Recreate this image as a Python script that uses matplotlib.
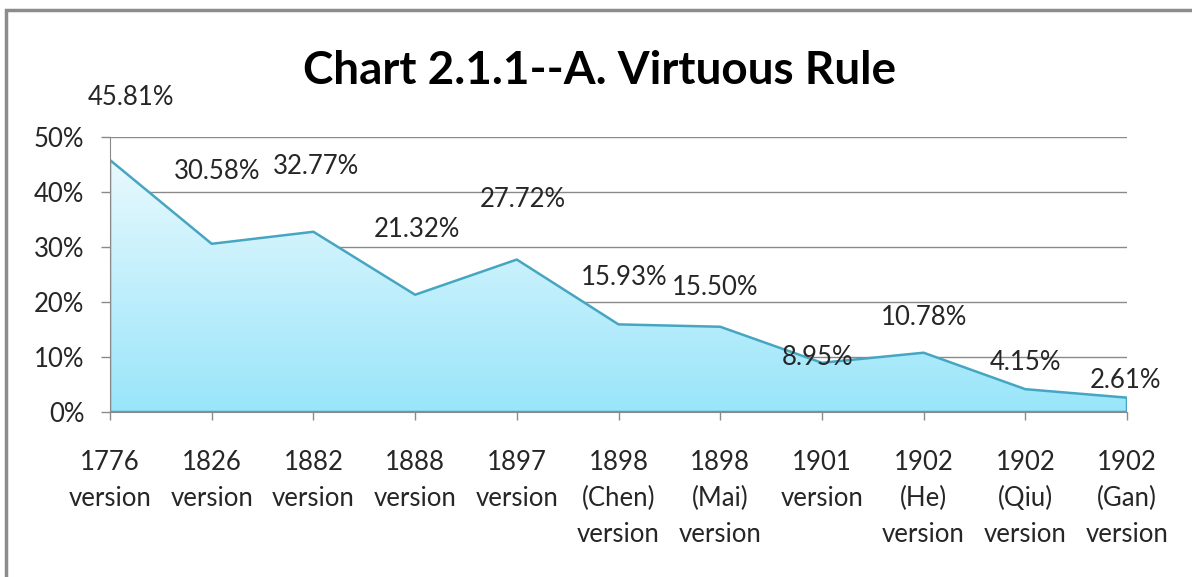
import numpy as np
import matplotlib.pyplot as plt
from matplotlib.patches import Rectangle, Polygon
from matplotlib.ticker import MultipleLocator, PercentFormatter

categories = ['1776\nversion', '1826\nversion', '1882\nversion', '1888\nversion',
              '1897\nversion', '1898\n(Chen)\nversion', '1898\n(Mai)\nversion',
              '1901\nversion', '1902\n(He)\nversion', '1902\n(Qiu)\nversion',
              '1902\n(Gan)\nversion']
values = [45.81, 30.58, 32.77, 21.32, 27.72, 15.93, 15.50, 8.95, 10.78, 4.15, 2.61]
labels = ['45.81%', '30.58%', '32.77%', '21.32%', '27.72%', '15.93%', '15.50%',
          '8.95%', '10.78%', '4.15%', '2.61%']

# label placement (offset in points from the data point), as drawn in the original
label_dx = [15, 4, 2, 1, 4, 4, -4, -3, 0, 0, -1]
label_dy = [45, 52, 47, 47, 43, 34, 28, 4, 25, 19, 12]

plt.rcParams['font.family'] = ['Lato', 'DejaVu Sans']
text_col = '#262626'
line_col = '#46a6c2'
grid_col = '#8a8a8a'

W, H = 1192, 577
fig = plt.figure(figsize=(W / 100, H / 100), dpi=100)
ax = fig.add_axes([110 / W, 1 - 412 / H, (1127 - 110) / W, (412 - 137) / H])

x = np.arange(len(values))
y = np.array(values) / 100

# gradient area clipped to the polygon
verts = [(0, 0)] + list(zip(x, y)) + [(x[-1], 0)]
poly = Polygon(verts, closed=True, facecolor='none', edgecolor=line_col,
               linewidth=1.8, joinstyle='round', zorder=3)
ax.add_patch(poly)
grad = np.linspace(0, 1, 256).reshape(-1, 1)
top = np.array([0.91, 0.975, 0.995])
bot = np.array([0.60, 0.90, 0.98])
img = top[None, None, :] * (1 - grad[..., None]) + bot[None, None, :] * grad[..., None]
im = ax.imshow(img, extent=[x[0], x[-1], 0, y.max()], origin='upper',
               aspect='auto', zorder=2, interpolation='bilinear')
im.set_clip_path(poly)

ax.set_xlim(x[0], x[-1])
ax.set_ylim(0, 0.5)
ax.yaxis.set_major_locator(MultipleLocator(0.1))
ax.yaxis.set_major_formatter(PercentFormatter(1.0, decimals=0))
ax.grid(axis='y', color=grid_col, linewidth=1, zorder=1)
ax.set_axisbelow(True)

ax.set_xticks(x)
ax.set_xticklabels(categories, linespacing=1.55)
ax.tick_params(axis='x', length=6, width=1, color=grid_col, pad=21,
               labelsize=18.5, labelcolor=text_col)
ax.tick_params(axis='y', length=6.5, width=1, color=grid_col, pad=12,
               labelsize=18.5, labelcolor=text_col)
for lab in ax.get_xticklabels():
    lab.set_verticalalignment('top')

for side in ['top', 'right']:
    ax.spines[side].set_visible(False)
ax.spines['left'].set_color(grid_col)
ax.spines['bottom'].set_color(grid_col)
ax.spines['left'].set_zorder(4)

for xi, yi, t, dx, dy in zip(x, y, labels, label_dx, label_dy):
    ax.annotate(t, (xi, yi), xytext=(dx, dy), textcoords='offset points',
                ha='center', va='center', fontsize=18.5, color=text_col,
                annotation_clip=False, zorder=5)

fig.text(600 / W, 1 - 71 / H, 'Chart 2.1.1--A. Virtuous Rule', ha='center',
         va='center', fontsize=33, fontweight='bold', color='black')

# outer chart border
fig.patches.append(Rectangle((6 / W, -0.1), 1.2, 1.1 - 10 / H,
                             transform=fig.transFigure, fill=False,
                             edgecolor='#8c8c8c', linewidth=2.5))

fig.savefig('out.png', dpi=100)
